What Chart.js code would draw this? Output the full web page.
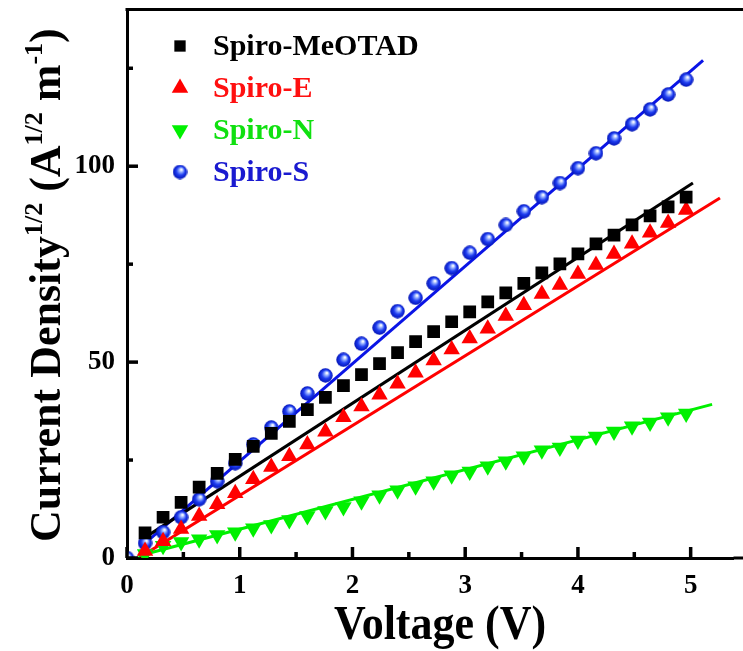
<!DOCTYPE html>
<html>
<head>
<meta charset="utf-8">
<script src="https://cdn.jsdelivr.net/npm/chart.js@4/dist/chart.umd.min.js"></script>
<style>
  html, body { margin: 0; padding: 0; background: #fff; overflow: hidden; }
  #box { width: 743px; height: 651px; }
</style>
</head>
<body>
<div id="box"><canvas id="chart" width="743" height="651"></canvas></div>
<script>
// voltage steps (V) shared by the measured series
const voltage = [0.16,0.32,0.48,0.64,0.80,0.96,1.12,1.28,1.44,1.60,1.76,1.92,2.08,2.24,2.40,2.56,
  2.72,2.88,3.04,3.20,3.36,3.52,3.68,3.84,4.00,4.16,4.32,4.48,4.64,4.80,4.96];
const voltageS = [0.00,0.16,0.32,0.48,0.64,0.80,0.96,1.12,1.28,1.44,1.60,1.76,1.92,2.08,2.24,2.40,2.56,
  2.72,2.88,3.04,3.20,3.36,3.52,3.68,3.84,4.00,4.16,4.32,4.48,4.64,4.80,4.96];

// current density^1/2
const spiroMeOTAD = [6.4,10.4,14.2,18.1,21.6,25.2,28.5,31.8,34.9,37.9,41.0,44.0,46.8,49.6,52.4,55.2,
  57.8,60.3,62.8,65.4,67.7,70.1,72.8,75.1,77.6,80.2,82.4,85.0,87.3,89.6,92.1];
const spiroE = [1.8,4.3,7.4,10.7,13.7,16.5,20.1,23.2,26.0,29.0,32.2,35.9,38.7,41.7,44.5,47.3,
  50.4,53.2,56.0,58.5,61.8,64.5,67.4,69.7,72.5,74.8,77.6,80.2,83.0,85.5,88.8];
const spiroN = [1.0,3.1,4.1,4.8,5.9,6.6,7.6,8.4,9.7,10.7,12.0,13.0,14.5,16.0,17.3,18.3,
  19.6,21.1,22.1,23.4,24.7,26.0,27.5,28.2,30.0,31.0,32.3,33.6,34.6,35.9,36.9];
const spiroS = [0.0,3.8,6.6,10.4,15.0,19.6,24.2,29.0,33.3,37.4,42.0,46.6,50.6,54.7,58.8,63.0,
  66.4,70.1,74.0,77.9,81.4,85.0,88.5,92.1,95.7,99.5,103.3,107.1,110.7,114.5,118.3,122.1];

// linear fits (end points)
const fitMeOTADx = [0.12, 5.02], fitMeOTADy = [4.5, 95.7];
const fitEx = [0.12, 5.26], fitEy = [0.3, 91.9];
const fitNx = [0.10, 5.19], fitNy = [0.5, 39.2];
const fitSx = [0.12, 5.11], fitSy = [2.8, 127.0];

const names = ["Spiro-MeOTAD", "Spiro-E", "Spiro-N", "Spiro-S"];
const colors = ["#000000", "#ff0000", "#00f000", "#0a14e6"];
const textColors = ["#000000", "#ff1010", "#10e010", "#1a1ad0"];

const xMajor = [0, 1, 2, 3, 4, 5];
const yMajor = [0, 50, 100];

const FONT = "'Liberation Serif', 'Times New Roman', serif";

function pts(xs, ys) {
  return xs.map((x, i) => ({ x: x, y: ys[i] }));
}

// little shaded ball for Spiro-S
const ball = document.createElement("canvas");
ball.width = 15; ball.height = 15;
(function () {
  const c = ball.getContext("2d");
  const g = c.createRadialGradient(9, 5, 0.5, 7.5, 7.5, 7.5);
  g.addColorStop(0, "#ffffff");
  g.addColorStop(0.25, "#8aa6ff");
  g.addColorStop(0.55, "#1e3cf0");
  g.addColorStop(1, "#0010b0");
  c.fillStyle = g;
  c.beginPath();
  c.arc(7.5, 7.5, 7.2, 0, Math.PI * 2);
  c.fill();
})();

const styles = [
  { pointStyle: "rect", rotation: 0, radius: 9 },
  { pointStyle: "triangle", rotation: 0, radius: 9.5 },
  { pointStyle: "triangle", rotation: 180, radius: 9.5 },
  { pointStyle: ball, rotation: 0, radius: 7.5 },
];

function markers(i, data) {
  return {
    type: "scatter", data: data, order: 1,
    backgroundColor: colors[i], borderColor: colors[i], borderWidth: 0,
    pointStyle: styles[i].pointStyle, rotation: styles[i].rotation,
    pointRadius: styles[i].radius, pointHoverRadius: styles[i].radius,
  };
}
function fitLine(i, data) {
  return {
    type: "scatter", data: data, order: 2, showLine: true,
    borderColor: colors[i], borderWidth: 3, pointRadius: 0, pointHoverRadius: 0,
  };
}

const frame = {
  id: "frame",
  afterDatasetsDraw(chart) {
    const ctx = chart.ctx, a = chart.chartArea;
    const xs = chart.scales.x, ys = chart.scales.y;
    ctx.save();
    ctx.strokeStyle = "#000";
    ctx.lineWidth = 3;
    ctx.beginPath();
    ctx.moveTo(a.left - 1.5, a.top);
    ctx.lineTo(chart.width, a.top);
    ctx.stroke();
    // bottom axis runs on to the edge as well
    ctx.beginPath();
    ctx.moveTo(a.right, a.bottom);
    ctx.lineTo(chart.width, a.bottom);
    ctx.stroke();
    // inward ticks
    ctx.lineWidth = 3.5;
    for (let v = 0; v <= 5.01; v += 0.5) {
      const px = xs.getPixelForValue(v);
      const len = xMajor.includes(Math.round(v * 10) / 10) ? 11 : 6;
      ctx.beginPath();
      ctx.moveTo(px, a.bottom);
      ctx.lineTo(px, a.bottom - len);
      ctx.stroke();
    }
    for (let v = 0; v <= 125; v += 25) {
      const py = ys.getPixelForValue(v);
      const len = yMajor.includes(v) ? 11 : 6;
      ctx.beginPath();
      ctx.moveTo(a.left, py);
      ctx.lineTo(a.left + len, py);
      ctx.stroke();
    }
    ctx.restore();
  },
  afterDraw(chart) {
    const ctx = chart.ctx;
    ctx.save();
    // legend in the upper left
    const rows = [46, 88, 130, 172];
    names.forEach((n, i) => {
      ctx.fillStyle = colors[i];
      Chart.helpers.drawPoint(ctx, {
        pointStyle: styles[i].pointStyle, rotation: styles[i].rotation,
        radius: i === 0 ? 8 : styles[i].radius, borderWidth: 0,
      }, 180, rows[i]);
      ctx.fillStyle = textColors[i];
      ctx.font = "bold 30px " + FONT;
      ctx.textBaseline = "middle";
      ctx.textAlign = "left";
      ctx.fillText(n, 213, rows[i] + 1);
    });

    // x title
    ctx.fillStyle = "#000";
    ctx.textAlign = "center";
    ctx.textBaseline = "alphabetic";
    ctx.font = "bold 44px " + FONT;
    ctx.save();
    ctx.translate(440, 639);
    ctx.scale(1, 1.1);
    ctx.fillText("Voltage (V)", 0, 0);
    ctx.restore();

    // y title with superscripts
    const parts = [
      ["Current Density", false], ["1/2", true], [" (A", false], ["1/2", true],
      [" m", false], ["-1", true], [")", false],
    ];
    ctx.translate(60, 542);
    ctx.rotate(-Math.PI / 2);
    ctx.textAlign = "left";
    let cx = 0;
    parts.forEach(([t, sup]) => {
      ctx.font = sup ? "bold 26px " + FONT : "bold 44px " + FONT;
      ctx.fillText(t, cx, sup ? -18 : 0);
      cx += ctx.measureText(t).width;
    });
    ctx.restore();
  },
};

const chart = new Chart(document.getElementById("chart"), {
  type: "scatter",
  data: {
    datasets: [
      markers(0, pts(voltage, spiroMeOTAD)),
      markers(1, pts(voltage, spiroE)),
      markers(2, pts(voltage, spiroN)),
      markers(3, pts(voltageS, spiroS)),
      fitLine(0, pts(fitMeOTADx, fitMeOTADy)),
      fitLine(1, pts(fitEx, fitEy)),
      fitLine(2, pts(fitNx, fitNy)),
      fitLine(3, pts(fitSx, fitSy)),
    ],
  },
  options: {
    responsive: false,
    animation: false,
    devicePixelRatio: 1,
    layout: { padding: { top: 8, left: 0, right: 0, bottom: 0 } },
    plugins: { legend: { display: false }, tooltip: { enabled: false } },
    scales: {
      x: {
        type: "linear", min: 0, max: 5.38,
        grid: { display: false, drawTicks: false },
        border: { display: true, color: "#000", width: 3 },
        ticks: {
          stepSize: 0.5, includeBounds: false, autoSkip: false, maxRotation: 0,
          padding: 12, color: "#000",
          font: { family: FONT, size: 27, weight: "bold" },
          callback: (v) => (xMajor.includes(v) ? String(v) : ""),
        },
        afterFit: (s) => { s.height = 93; s.paddingLeft = 0; s.paddingRight = 0; },
      },
      y: {
        type: "linear", min: 0, max: 140,
        grid: { display: false, drawTicks: false },
        border: { display: true, color: "#000", width: 3 },
        ticks: {
          stepSize: 25, autoSkip: false, padding: 12, color: "#000",
          font: { family: FONT, size: 27, weight: "bold" },
          callback: (v) => (yMajor.includes(v) ? String(v) : ""),
        },
        afterFit: (s) => { s.width = 127; s.paddingTop = 0; s.paddingBottom = 0; },
      },
    },
  },
  plugins: [frame],
});
</script>
</body>
</html>
